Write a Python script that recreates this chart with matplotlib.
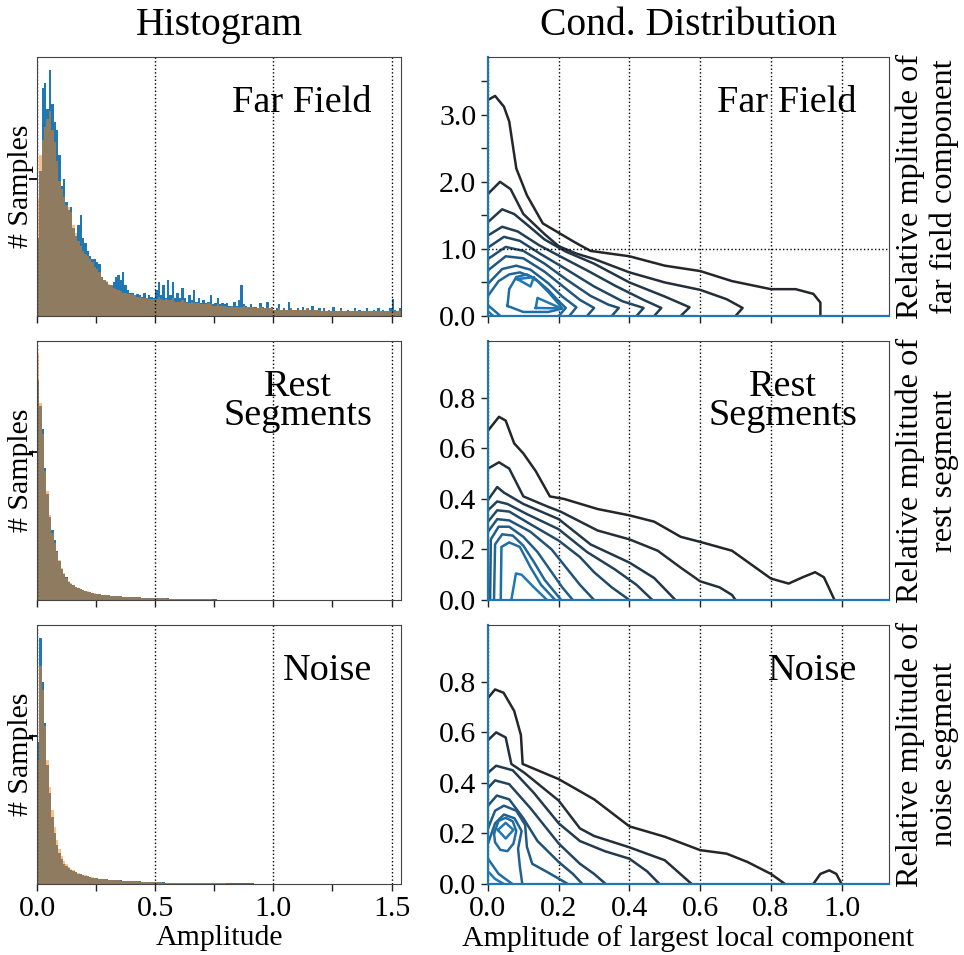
import matplotlib
matplotlib.use("Agg")
import matplotlib.pyplot as plt
import numpy as np
import seaborn as sns

plt.rcParams["font.family"] = ["Liberation Serif", "DejaVu Serif"]

BLUE = "#1f77b4"
ORANGE = "#ff7f0e"
SPINE = "#444444"

# histogram bins are 0.01 wide, heights in % of the plot height
BIN_W = 0.01

FAR_BLUE = [
    30, 56, 88, 90, 80, 95, 82, 75, 72, 62,
    50, 53, 44, 41, 42, 34, 31, 35, 39, 30,
    28, 25, 23, 22, 22, 21, 20, 15, 14, 13,
    12, 12, 13, 15, 16, 14, 17, 12, 10, 9,
    9, 8, 8.5, 8, 7.5, 9, 7, 8, 7.5, 7,
    10, 13, 8, 12, 7, 14, 8, 13, 7, 9,
    7, 11, 7, 5.5, 8, 6, 10, 5.5, 7, 5,
    6, 5, 5.5, 8, 4.5, 5, 7, 4.5, 5, 4.5,
    5, 4, 4, 5.5, 4, 6, 12, 4.5, 4, 3.5,
    4.5, 3.5, 3.5, 3, 5, 3.5, 3, 5.5, 3, 3.5,
    2.5, 3, 4.5, 2.5, 3, 2.5, 5.5, 3, 2.5, 2.5,
    3, 2.5, 3.5, 2.5, 3, 2.5, 4, 2.5, 2.5, 3,
    2, 3, 2, 2.5, 2, 3.5, 2, 2, 3, 2,
    2, 2.5, 2, 2, 3, 2, 2.5, 2, 2, 3,
    1.8, 2, 2.5, 1.8, 3, 1.8, 2.5, 1.8, 2, 3,
    6.5, 2.5, 1.8, 3,
]
FAR_ORANGE = [
    45, 62, 68, 73, 76, 79, 72, 67, 60, 52,
    49, 46, 43, 42, 40, 35, 32, 29, 27, 25,
    24, 23, 22, 21, 19, 18, 17, 15, 14, 13.5,
    12.5, 12, 11, 10.5, 10, 9.5, 9, 9, 8.5, 8.5,
    8, 8, 7.5, 7.5, 7, 7, 7, 6.5, 6.5, 6.5,
    6.5, 7.5, 6.5, 6, 6.5, 6, 6, 7, 5.5, 5.5,
    5.5, 6, 5.5, 5, 5, 5.5, 5, 5, 5, 4.5,
    4.5, 4.5, 5, 4.5, 4, 4, 4.5, 4, 4, 4,
    3.5, 3.5, 4, 3.5, 3.5, 3.5, 3.5, 4, 3.5, 3.5,
    3.5, 3.5, 3, 3, 3.5, 3, 3, 3, 3, 3,
    2.5, 2.5, 3, 2.5, 2.5, 2.5, 2.5, 3, 2.5, 2.5,
    2.5, 2.5, 2.5, 2.5, 3, 2.5, 2.5, 2.5, 2.5, 2.5,
    2, 2, 2, 2.5, 2, 2, 2, 2, 2.5, 2,
    2, 2, 2, 2, 2.5, 2, 2, 2, 2, 2,
    1.8, 1.8, 2, 1.8, 1.8, 1.8, 2, 1.8, 1.8, 1.8,
    2, 1.8, 1.8, 1.8,
]

REST_BLUE = [
    85, 75, 66, 51, 41, 32, 27, 23, 19, 15,
    12, 10, 9, 7, 6.3, 5.6, 5, 4.8, 4.1, 3.7,
    3.6, 3.2, 3, 2.8, 2.5, 2.4, 2.2, 2.1, 2, 1.9,
    1.8, 1.7, 1.6, 1.6, 1.5, 1.4, 1.3, 1.3, 1.2, 1.2,
    1.1, 1.1, 1, 1, 0.9, 0.9, 0.9, 0.8, 0.8, 0.8,
    0.7, 0.7, 0.7, 0.6, 0.6, 0.6, 0.5, 0.5, 0.5, 0.5,
    0.4, 0.4, 0.4, 0.4, 0.4, 0.3, 0.3, 0.3, 0.3, 0.3,
    0.3, 0.2, 0.2, 0.2, 0.2, 0.2, 0.15, 0.15, 0.1, 0.1,
]
REST_ORANGE = [
    95, 76, 64, 50, 42, 33, 26, 22, 18.5, 15.5,
    12.5, 10.5, 8.5, 7.5, 6.5, 5.8, 5.2, 4.6, 4.2, 3.8,
    3.5, 3.3, 3.1, 2.8, 2.6, 2.4, 2.3, 2.1, 2, 1.9,
    1.8, 1.7, 1.6, 1.5, 1.5, 1.4, 1.3, 1.3, 1.2, 1.1,
    1.1, 1, 1, 1, 0.9, 0.9, 0.8, 0.8, 0.8, 0.7,
    0.7, 0.7, 0.6, 0.6, 0.6, 0.5, 0.5, 0.5, 0.5, 0.4,
    0.4, 0.4, 0.4, 0.3, 0.3, 0.3, 0.3, 0.3, 0.3, 0.2,
    0.2, 0.2, 0.2, 0.2, 0.15, 0.15, 0.15, 0.1, 0.1, 0.1,
]

NOISE_BLUE = [
    55, 95, 78, 62, 46, 35, 26, 19.5, 15, 12,
    9.7, 7.8, 6.8, 6, 5.4, 4.9, 4.5, 4, 3.7, 3.4,
    3.1, 2.9, 2.7, 2.5, 2.4, 2.2, 2.1, 2, 1.9, 1.8,
    1.7, 1.6, 1.5, 1.5, 1.4, 1.4, 1.3, 1.3, 1.2, 1.2,
    1.1, 1.1, 1.0, 1.0, 0.9, 0.9, 0.8, 0.8, 0.7, 0.7,
    0.7, 0.6, 0.6, 0.6, 0.5, 0.5, 0.5, 0.5, 0.4, 0.4,
    0.4, 0.4, 0.4, 0.35, 0.35, 0.35, 0.3, 0.3, 0.3, 0.3,
    0.3, 0.25, 0.25, 0.25, 0.25, 0.25, 0.25, 0.25, 0.25, 0.25,
    0.2, 0.2, 0.2, 0.2, 0.2, 0.2, 0.2, 0.2, 0.2, 0.2,
    0.2, 0.2, 0.15, 0.15, 0.15, 0.15, 0.15, 0.15, 0.15, 0.15,
    0.15, 0.15, 0.1, 0.1, 0.1, 0.1, 0.1, 0.1,
]
NOISE_ORANGE = [
    48, 84, 75, 61, 48, 37.5, 28.5, 22, 17, 13.5,
    11, 9, 7.6, 6.6, 5.9, 5.3, 4.8, 4.3, 3.9, 3.6,
    3.3, 3.0, 2.8, 2.6, 2.4, 2.3, 2.1, 2.0, 1.9, 1.8,
    1.7, 1.6, 1.5, 1.4, 1.4, 1.3, 1.3, 1.2, 1.2, 1.1,
    1.1, 1.0, 1.0, 0.9, 0.9, 0.8, 0.8, 0.7, 0.7, 0.7,
    0.6, 0.6, 0.6, 0.5, 0.5, 0.5, 0.5, 0.4, 0.4, 0.4,
    0.4, 0.35, 0.35, 0.35, 0.3, 0.3, 0.3, 0.3, 0.3, 0.25,
    0.25, 0.25, 0.25, 0.2, 0.2, 0.2, 0.2, 0.2, 0.2, 0.2,
    0.15, 0.15, 0.15, 0.15, 0.15, 0.15, 0.15, 0.1, 0.1, 0.1,
    0.1, 0.1, 0.1, 0.1, 0.1, 0.1, 0.1, 0.1, 0.05, 0.05,
]

# density contour lines (level index, points in data units)
FAR_LINES = [
    (0, [(0, 3.22), (0.02, 3.28), (0.045, 3.12), (0.06, 2.9), (0.08, 2.2), (0.11, 1.8),
         (0.155, 1.38), (0.2, 1.24), (0.245, 1.1), (0.29, 0.97), (0.4, 0.89), (0.5, 0.75),
         (0.6, 0.67), (0.69, 0.52), (0.8, 0.40), (0.87, 0.40), (0.92, 0.33), (0.94, 0.2),
         (0.94, 0.0)]),
    (1, [(0, 1.82), (0.034, 2.0), (0.064, 1.89), (0.1, 1.52), (0.16, 1.22), (0.2, 1.04),
         (0.25, 0.93), (0.3, 0.85), (0.4, 0.65), (0.5, 0.5), (0.6, 0.39), (0.675, 0.25),
         (0.72, 0.12), (0.70, 0.0)]),
    (2, [(0, 1.4), (0.04, 1.59), (0.074, 1.52), (0.113, 1.35), (0.16, 1.14), (0.22, 0.96),
         (0.3, 0.78), (0.4, 0.5), (0.5, 0.29), (0.57, 0.13), (0.545, 0.0)]),
    (3, [(0, 1.2), (0.04, 1.33), (0.084, 1.26), (0.143, 1.06), (0.2, 0.9), (0.28, 0.68),
         (0.36, 0.45), (0.44, 0.24), (0.49, 0.12), (0.47, 0.0)]),
    (4, [(0, 1.02), (0.045, 1.18), (0.09, 1.12), (0.15, 0.92), (0.22, 0.7), (0.3, 0.44),
         (0.38, 0.22), (0.44, 0.12), (0.42, 0.0)]),
    (5, [(0, 0.85), (0.05, 1.03), (0.1, 0.97), (0.16, 0.78), (0.22, 0.55), (0.29, 0.3),
         (0.34, 0.17), (0.37, 0.12), (0.35, 0.0)]),
    (6, [(0, 0.68), (0.05, 0.89), (0.1, 0.86), (0.16, 0.66), (0.21, 0.45), (0.26, 0.24),
         (0.30, 0.12), (0.28, 0.0)]),
    (7, [(0, 0.48), (0.04, 0.7), (0.08, 0.75), (0.12, 0.69), (0.17, 0.49),
         (0.21, 0.29), (0.25, 0.13), (0.23, 0.0)]),
    (8, [(0, 0.3), (0.03, 0.52), (0.06, 0.62), (0.09, 0.65), (0.13, 0.57), (0.17, 0.39),
         (0.2, 0.22), (0.22, 0.12), (0.2, 0.0)]),
    (9, [(0.055, 0.15), (0.06, 0.4), (0.08, 0.58), (0.11, 0.62), (0.14, 0.52), (0.17, 0.36),
         (0.2, 0.18), (0.21, 0.11), (0.17, 0.06), (0.1, 0.06), (0.055, 0.15)]),
    (9, [(0, 0.16), (0.02, 0.07), (0.035, 0.0)]),
    (10, [(0.083, 0.55), (0.13, 0.58), (0.12, 0.44), (0.083, 0.55)]),
    (10, [(0.135, 0.12), (0.14, 0.27), (0.2, 0.13), (0.19, 0.115), (0.135, 0.12)]),
    (10, [(0, 0.07), (0.015, 0.0)]),
]

REST_LINES = [
    (0, [(0, 0.67), (0.031, 0.725), (0.05, 0.71), (0.074, 0.62), (0.1, 0.58), (0.135, 0.51),
         (0.175, 0.41), (0.215, 0.40), (0.31, 0.36), (0.4, 0.335), (0.47, 0.31), (0.545, 0.25),
         (0.6, 0.23), (0.69, 0.195), (0.8, 0.085), (0.85, 0.065), (0.89, 0.09), (0.925, 0.11),
         (0.95, 0.09), (0.98, 0.0)]),
    (1, [(0, 0.52), (0.031, 0.545), (0.06, 0.52), (0.1, 0.41), (0.168, 0.37), (0.205, 0.35),
         (0.31, 0.275), (0.4, 0.24), (0.48, 0.195), (0.545, 0.128), (0.6, 0.074),
         (0.655, 0.05), (0.69, 0.02), (0.70, 0.0)]),
    (2, [(0, 0.396), (0.026, 0.447), (0.045, 0.425), (0.1, 0.38), (0.2, 0.32), (0.29, 0.22),
         (0.4, 0.148), (0.47, 0.087), (0.53, 0.0)]),
    (3, [(0, 0.355), (0.026, 0.39), (0.055, 0.38), (0.11, 0.34), (0.2, 0.28), (0.28, 0.19),
         (0.36, 0.12), (0.42, 0.06), (0.465, 0.0)]),
    (4, [(0, 0.31), (0.026, 0.355), (0.06, 0.35), (0.12, 0.3), (0.2, 0.235), (0.26, 0.17),
         (0.3, 0.11), (0.35, 0.05), (0.40, 0.0)]),
    (5, [(0, 0.27), (0.026, 0.32), (0.06, 0.315), (0.12, 0.27), (0.18, 0.2), (0.22, 0.13),
         (0.26, 0.06), (0.30, 0.0)]),
    (6, [(0.006, 0.0), (0.008, 0.24), (0.03, 0.29), (0.06, 0.29), (0.1, 0.25), (0.14, 0.19),
         (0.18, 0.11), (0.21, 0.05), (0.24, 0.0)]),
    (7, [(0.017, 0.0), (0.02, 0.22), (0.04, 0.26), (0.07, 0.255), (0.1, 0.215), (0.13, 0.15),
         (0.16, 0.08), (0.207, 0.0)]),
    (8, [(0.036, 0.0), (0.038, 0.21), (0.06, 0.228), (0.09, 0.21), (0.12, 0.13),
         (0.15, 0.06), (0.19, 0.0)]),
    (9, [(0.066, 0.0), (0.079, 0.105), (0.095, 0.1), (0.13, 0.05), (0.167, 0.0)]),
]

NOISE_LINES = [
    (0, [(0, 0.736), (0.02, 0.77), (0.044, 0.757), (0.074, 0.685), (0.093, 0.59),
         (0.098, 0.475), (0.2, 0.415), (0.3, 0.335), (0.4, 0.228), (0.5, 0.187),
         (0.6, 0.134), (0.675, 0.12), (0.734, 0.087), (0.8, 0.04), (0.84, 0.0)]),
    (0, [(0.92, 0.0), (0.94, 0.04), (0.965, 0.054), (0.985, 0.04), (1.0, 0.0)]),
    (1, [(0, 0.569), (0.023, 0.6), (0.05, 0.58), (0.066, 0.475), (0.103, 0.44), (0.2, 0.33),
         (0.26, 0.22), (0.3, 0.19), (0.4, 0.145), (0.5, 0.094), (0.576, 0.0)]),
    (2, [(0, 0.44), (0.023, 0.468), (0.07, 0.45), (0.13, 0.36), (0.2, 0.24), (0.26, 0.17),
         (0.33, 0.13), (0.4, 0.1), (0.45, 0.05), (0.485, 0.0)]),
    (3, [(0, 0.38), (0.02, 0.41), (0.06, 0.395), (0.12, 0.3), (0.2, 0.16), (0.26, 0.08),
         (0.3, 0.04), (0.333, 0.0)]),
    (4, [(0, 0.31), (0.025, 0.35), (0.06, 0.335), (0.1, 0.26), (0.14, 0.17), (0.2, 0.087),
         (0.24, 0.04), (0.267, 0.0)]),
    (5, [(0, 0.22), (0.02, 0.29), (0.045, 0.31), (0.08, 0.29), (0.105, 0.234),
         (0.11, 0.147), (0.125, 0.08), (0.168, 0.047), (0.226, 0.0)]),
    (6, [(0, 0.16), (0.02, 0.24), (0.045, 0.275), (0.075, 0.26), (0.095, 0.21),
         (0.085, 0.14), (0.09, 0.07), (0.097, 0.0)]),
    (7, [(0.017, 0.2), (0.03, 0.25), (0.05, 0.262), (0.07, 0.248), (0.08, 0.21),
         (0.072, 0.16), (0.055, 0.13), (0.035, 0.135), (0.02, 0.165), (0.017, 0.2)]),
    (7, [(0, 0.1), (0.03, 0.04), (0.069, 0.0)]),
    (8, [(0.028, 0.214), (0.05, 0.242), (0.072, 0.214), (0.05, 0.18), (0.028, 0.214)]),
    (8, [(0, 0.05), (0.02, 0.02), (0.045, 0.0)]),
]

NAMES = ["Far Field", "Rest\nSegments", "Noise"]
COND_LABELS = ["Relative mplitude of\nfar field component",
               "Relative mplitude of\nrest segment",
               "Relative mplitude of\nnoise segment"]
HISTS = [(FAR_BLUE, FAR_ORANGE), (REST_BLUE, REST_ORANGE), (NOISE_BLUE, NOISE_ORANGE)]
LINES = [FAR_LINES, REST_LINES, NOISE_LINES]
HIST_MARK = [53, 57, 57]

FAR_YTICKS = [0.0, 0.5, 1.0, 1.5, 2.0, 2.5, 3.0, 3.5]
FAR_YLABELS = ["0.0", "", "1.0", "", "2.0", "", "3.0", ""]
SEG_YTICKS = [0.0, 0.2, 0.4, 0.6, 0.8]
COND_XTICKS = [0.0, 0.2, 0.4, 0.6, 0.8, 1.0]
HIST_XTICKS = [0.0, 0.5, 1.0, 1.5]
HIST_XMINOR = [0.25, 0.75, 1.25]

W, H = 964, 955
FS = 21.5


def add_axes_px(fig, x0, x1, y0, y1):
    return fig.add_axes([x0 / W, 1 - y1 / H, (x1 - x0) / W, (y1 - y0) / H])


def panel_text(ax, txt):
    ax.text(0.92, 0.89, txt, transform=ax.transAxes, ha="right", va="top",
            multialignment="center", fontsize=27.5, linespacing=0.8)


fig = plt.figure(figsize=(W / 100, H / 100), dpi=100)
cmap = sns.dark_palette(BLUE, as_cmap=True)

row_tops = [57, 341, 625]
row_h = 259

for r in range(3):
    top = row_tops[r]
    # histogram column
    ax = add_axes_px(fig, 37, 401, top, top + row_h)
    blue, orange = HISTS[r]
    ax.stairs(blue, np.arange(len(blue) + 1) * BIN_W, fill=True, color=BLUE, lw=0)
    ax.stairs(orange, np.arange(len(orange) + 1) * BIN_W, fill=True, color=ORANGE,
              alpha=0.5, lw=0)
    ax.set_xlim(0, 1.54)
    ax.set_ylim(0, 100)
    ax.set_xticks(HIST_XTICKS)
    ax.set_xticks(HIST_XMINOR, minor=True)
    ax.set_yticks([HIST_MARK[r]])
    ax.grid(axis="x", which="major", ls=":", color="k", lw=1)
    ax.tick_params(which="both", length=5, width=1, labelsize=FS, color="#222222")
    ax.tick_params(axis="y", length=6, width=1.3, color="k", labelleft=False)
    for s in ax.spines.values():
        s.set_color(SPINE)
    ax.set_ylabel("# Samples", fontsize=FS)
    ax.yaxis.set_label_coords(-0.008, 0.5)
    if r == 2:
        ax.set_xticklabels(["0.0", "0.5", "1.0", "1.5"])
        ax.set_xlabel("Amplitude", fontsize=FS, labelpad=2)
    else:
        ax.tick_params(axis="x", labelbottom=False)
    if r == 0:
        ax.set_title("Histogram", fontsize=28.5, pad=16)
    panel_text(ax, NAMES[r])

    # conditional distribution column
    ax = add_axes_px(fig, 488, 889, top, top + row_h)
    lines = LINES[r]
    top_level = max(lv for lv, _ in lines)
    for lv, pts in lines:
        xs = [p[0] for p in pts]
        ys = [p[1] for p in pts]
        ax.plot(xs, ys, color=cmap(lv / top_level), lw=1.8, solid_joinstyle="round")
    ax.set_xlim(0, 1.134)
    ax.set_xticks(COND_XTICKS)
    if r == 0:
        ax.set_ylim(0, 3.86)
        ax.set_yticks(FAR_YTICKS)
        ax.set_yticklabels(FAR_YLABELS)
        ax.axhline(1.0, ls=":", color="k", lw=1)
        ax.set_title("Cond. Distribution", fontsize=28.5, pad=16)
    else:
        ax.set_ylim(0, 1.025)
        ax.set_yticks(SEG_YTICKS)
        ax.set_yticklabels(["%.1f" % v for v in SEG_YTICKS])
    ax.grid(axis="x", which="major", ls=":", color="k", lw=1)
    ax.tick_params(which="both", length=5, width=1, labelsize=FS, color="#222222")
    for name in ["top", "right"]:
        ax.spines[name].set_color(SPINE)
    for name in ["left", "bottom"]:
        ax.spines[name].set_color(BLUE)
        ax.spines[name].set_linewidth(1.6)
    if r == 2:
        ax.set_xticklabels(["%.1f" % v for v in COND_XTICKS])
        ax.set_xlabel("Amplitude of largest local component", fontsize=FS, labelpad=2)
    else:
        ax.tick_params(axis="x", labelbottom=False)
    ax.yaxis.set_label_position("right")
    ax.set_ylabel(COND_LABELS[r], fontsize=23.2, labelpad=5, multialignment="center")
    panel_text(ax, NAMES[r])

fig.savefig("out.png", dpi=100)
